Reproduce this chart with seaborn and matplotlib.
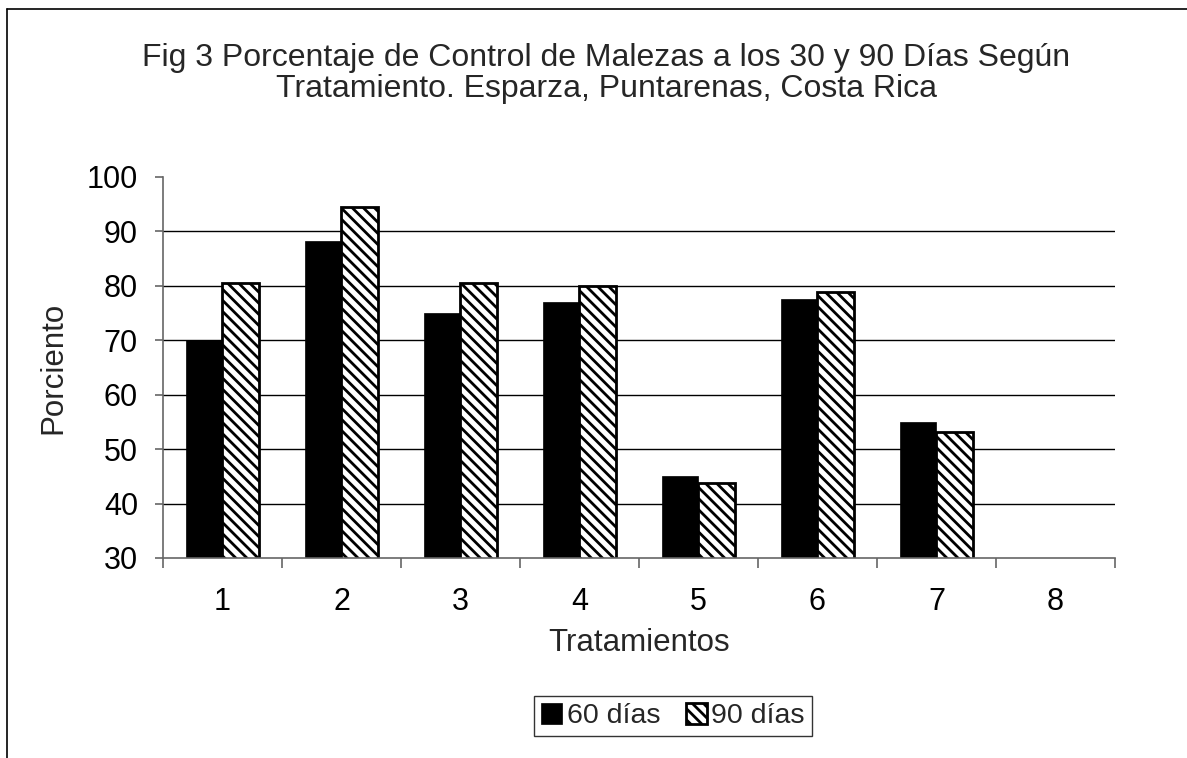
import numpy as np
import pandas as pd
import matplotlib
matplotlib.use("Agg")
import matplotlib.pyplot as plt
from matplotlib.lines import Line2D
import seaborn as sns

# values
tratamientos = ["1", "2", "3", "4", "5", "6", "7", "8"]
dias_60 = [70.1, 88.3, 75.1, 77.0, 45.0, 77.6, 55.0, np.nan]
dias_90 = [80.5, 94.4, 80.5, 80.0, 43.7, 78.8, 53.1, np.nan]
series = ["60 días", "90 días"]

df = pd.DataFrame({
    "Tratamiento": tratamientos * 2,
    "Serie": [series[0]] * len(tratamientos) + [series[1]] * len(tratamientos),
    "Porciento": dias_60 + dias_90,
})

sns.set_theme(style="white")
plt.rcParams["font.family"] = ["Liberation Sans", "DejaVu Sans"]
plt.rcParams["hatch.linewidth"] = 2.0

fig = plt.figure(figsize=(11.87, 7.58), dpi=100)
ax = fig.add_axes([0.1373, 0.2639, 0.8020, 0.5026])

sns.barplot(data=df, x="Tratamiento", y="Porciento", hue="Serie",
            order=tratamientos, hue_order=series, palette=["black", "white"],
            width=0.62, gap=0, saturation=1, legend=False, ax=ax)

# first series solid black, second hatched
for p in ax.containers[0]:
    p.set_facecolor("black")
    p.set_edgecolor("black")
    p.set_linewidth(0.5)
for p in ax.containers[1]:
    p.set_facecolor("white")
    p.set_edgecolor("black")
    p.set_hatch("\\\\\\")
    p.set_linewidth(2.0)

ax.set_ylim(30, 100)
ax.set_xlim(-0.5, len(tratamientos) - 0.5)
ax.set_yticks(range(30, 101, 10))
ax.yaxis.grid(True, color="black", linewidth=1.0)
ax.set_axisbelow(True)
gl = ax.yaxis.get_gridlines()
gl[0].set_visible(False)
gl[-1].set_visible(False)

for side in ["top", "right"]:
    ax.spines[side].set_visible(False)
for side in ["left", "bottom"]:
    ax.spines[side].set_color("#666666")
    ax.spines[side].set_linewidth(1.2)

ax.tick_params(axis="y", which="major", left=True, length=6, width=1.2,
               color="#666666", pad=12, labelsize=22, labelcolor="black")
ax.set_xticks(range(len(tratamientos)))
ax.set_xticklabels(tratamientos)
ax.set_xticks(np.arange(-0.5, len(tratamientos)), minor=True)
ax.tick_params(axis="x", which="major", length=0, pad=21, labelsize=22,
               labelcolor="black")
ax.tick_params(axis="x", which="minor", bottom=True, length=7, width=1.2,
               color="#666666")

ax.set_xlabel("Tratamientos", fontsize=22.5, labelpad=8)
ax.set_ylabel("Porciento", fontsize=22.5, labelpad=13)

fig.text(0.511, 0.903,
         "Fig 3 Porcentaje de Control de Malezas a los 30 y 90 Días Según\n"
         "Tratamiento. Esparza, Puntarenas, Costa Rica",
         ha="center", va="center", fontsize=23, linespacing=1.08)

handles = [ax.containers[0][0], ax.containers[1][0]]
leg = fig.legend(handles, series, loc="center", bbox_to_anchor=(0.567, 0.0554),
                 ncol=2, fontsize=20.5, frameon=True, fancybox=False,
                 handlelength=0.75, handleheight=0.75, handletextpad=0.15,
                 columnspacing=0.9, borderpad=0.25, borderaxespad=0)
leg.get_frame().set_edgecolor("black")
leg.get_frame().set_linewidth(1.0)

# outer chart border (left and top edges visible)
fig.add_artist(Line2D([0.0059, 0.0059], [0, 0.988], color="black", lw=1.2,
                      transform=fig.transFigure))
fig.add_artist(Line2D([0.0059, 1.0], [0.988, 0.988], color="black", lw=1.2,
                      transform=fig.transFigure))

fig.savefig("out.png", dpi=100, facecolor="white")
